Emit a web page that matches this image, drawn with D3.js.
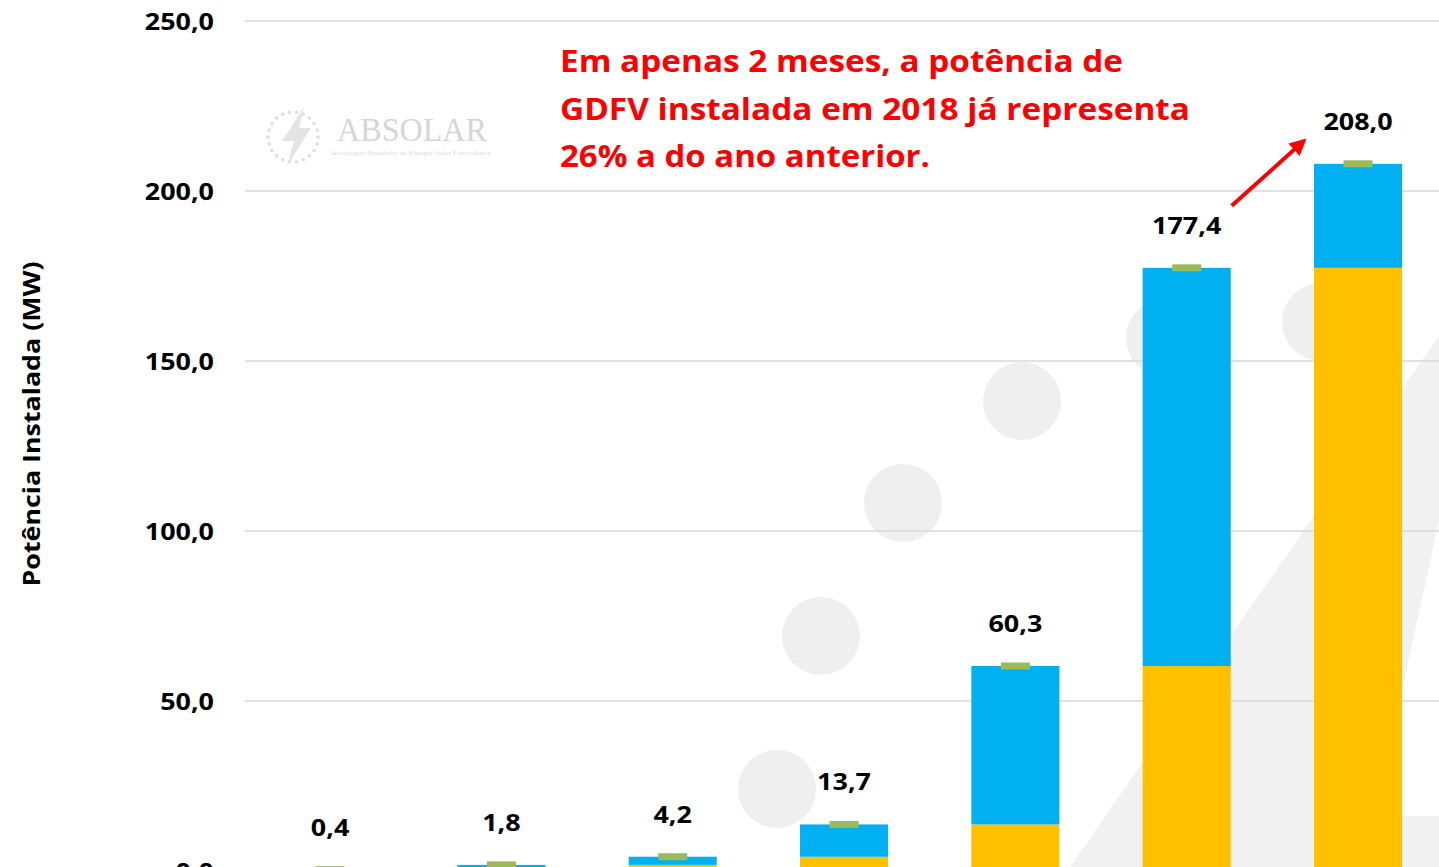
<!DOCTYPE html>
<html>
<head>
<meta charset="utf-8">
<script src="https://cdn.jsdelivr.net/npm/d3@7"></script>
<style>
  html, body { margin: 0; padding: 0; background: #ffffff; overflow: hidden; }
  svg { display: block; }
</style>
</head>
<body>
<svg id="chart" width="1439" height="867"></svg>
<script>
// ---------------- data ----------------
const categories = ["2012", "2013", "2014", "2015", "2016", "2017", "2018"];
const previousTotal = [0, 0.4, 1.8, 4.2, 13.7, 60.3, 177.4];      // yellow (acumulado anterior)
const addedInPeriod = [0.4, 1.4, 2.4, 9.5, 46.6, 117.1, 30.6];    // blue (novo no período)
const totals = [0.4, 1.8, 4.2, 13.7, 60.3, 177.4, 208.0];         // labels + green markers
const yTicks = [0, 50, 100, 150, 200, 250];
const yTitle = "Potência Instalada (MW)";
const noteLines = [
  "Em apenas 2 meses, a potência de",
  "GDFV instalada em 2018 já representa",
  "26% a do ano anterior."
];

// ---------------- setup ----------------
const svg = d3.select("#chart");
const W = 1439, H = 867;
const plotLeft = 244.4, plotRight = 1443.7;

const x = d3.scaleBand()
  .domain(categories)
  .range([plotLeft, plotRight])
  .paddingInner(0.486)
  .paddingOuter(0.243);

const y = d3.scaleLinear().domain([0, 250]).range([871, 21]);

const fmt = v => d3.format(".1f")(v).replace(".", ",");
const FONT = "'Open Sans', 'Noto Sans', sans-serif";
const STRETCH = 1.17;

function stretch(sel, k) {
  sel.each(function () {
    const len = this.getComputedTextLength();
    d3.select(this).attr("textLength", len * k).attr("lengthAdjust", "spacingAndGlyphs");
  });
}

// ---------------- watermark (decorative) ----------------
const wm = svg.append("g").attr("class", "watermark");
wm.append("path")
  .attr("d", "M1070,867 L1439,336 L1439,520 L1364,867 Z")
  .attr("fill", "#f1f1f1");
wm.append("rect").attr("x", 1402).attr("y", 816).attr("width", 40).attr("height", 60).attr("fill", "#f1f1f1");
[[1022, 401], [903, 503], [821, 636], [777, 789], [1165, 338], [1321, 322]].forEach(([cx, cy]) => {
  wm.append("circle").attr("cx", cx).attr("cy", cy).attr("r", 39).attr("fill", "#efefef");
});

// ABSOLAR logo
const logo = wm.append("g").attr("class", "logo");
const lcx = 293, lcy = 137, lr = 25;
d3.range(22).forEach(i => {
  const a = i / 22 * Math.PI * 2;
  logo.append("circle")
    .attr("cx", lcx + lr * Math.cos(a))
    .attr("cy", lcy + lr * Math.sin(a))
    .attr("r", 1.8)
    .attr("fill", "#dedede");
});
logo.append("path")
  .attr("d", "M304,107 L282,141 L294,141 L287,166 L311,128 L299,128 Z")
  .attr("fill", "#e4e4e4");
logo.append("text")
  .attr("x", 337).attr("y", 141)
  .attr("font-family", "'Liberation Serif', 'DejaVu Serif', serif")
  .attr("font-size", 33)
  .attr("fill", "#d6d6d6")
  .attr("textLength", 150)
  .attr("lengthAdjust", "spacingAndGlyphs")
  .text("ABSOLAR");
logo.append("text")
  .attr("x", 331).attr("y", 155)
  .attr("font-family", "'Liberation Serif', 'DejaVu Serif', serif")
  .attr("font-size", 6)
  .attr("fill", "#dcdcdc")
  .attr("textLength", 160)
  .attr("lengthAdjust", "spacingAndGlyphs")
  .text("Associação Brasileira de Energia Solar Fotovoltaica");

// ---------------- gridlines ----------------
svg.append("g").attr("class", "grid")
  .selectAll("line").data(yTicks).join("line")
  .attr("x1", 245).attr("x2", W)
  .attr("y1", d => y(d)).attr("y2", d => y(d))
  .attr("stroke", "#d9d9d9").attr("stroke-width", 1.5);

// ---------------- y axis labels ----------------
const yAxis = d3.axisLeft(y).tickValues(yTicks).tickFormat(fmt).tickSize(0).tickPadding(0);
const yg = svg.append("g").attr("transform", "translate(214,0)").call(yAxis);
yg.select(".domain").remove();
yg.selectAll("text")
  .attr("font-family", FONT)
  .attr("font-weight", 700)
  .attr("font-size", 23)
  .attr("fill", "#000")
  .attr("dy", "0.36em")
  .call(stretch, STRETCH);

// y title
svg.append("text")
  .attr("transform", "translate(40,424) rotate(-90)")
  .attr("text-anchor", "middle")
  .attr("font-family", FONT)
  .attr("font-weight", 700)
  .attr("font-size", 23)
  .attr("fill", "#000")
  .attr("textLength", 325)
  .attr("lengthAdjust", "spacingAndGlyphs")
  .text(yTitle);

// ---------------- stacked bars ----------------
const rows = categories.map((c, i) => ({ cat: c, prev: previousTotal[i], added: addedInPeriod[i] }));
const stack = d3.stack().keys(["prev", "added"]);
const series = stack(rows);
const colors = { prev: "#ffc000", added: "#00b0f0" };

svg.append("g").attr("class", "bars")
  .selectAll("g").data(series).join("g")
  .attr("fill", d => colors[d.key])
  .selectAll("rect").data(d => d).join("rect")
  .attr("x", d => x(d.data.cat))
  .attr("width", x.bandwidth())
  .attr("y", d => y(d[1]))
  .attr("height", d => Math.max(0, y(d[0]) - y(d[1])));

// green markers (total)
const mW = 29, mH = 7;
svg.append("g").attr("class", "markers")
  .selectAll("rect").data(totals).join("rect")
  .attr("x", (d, i) => x(categories[i]) + x.bandwidth() / 2 - mW / 2)
  .attr("y", d => y(d) - mH / 2)
  .attr("width", mW).attr("height", mH)
  .attr("fill", "#9bbb59");

// total labels
svg.append("g").attr("class", "labels")
  .selectAll("text").data(totals).join("text")
  .attr("x", (d, i) => x(categories[i]) + x.bandwidth() / 2)
  .attr("y", d => y(d) - 34)
  .attr("text-anchor", "middle")
  .attr("font-family", FONT)
  .attr("font-weight", 700)
  .attr("font-size", 23)
  .attr("fill", "#000")
  .text(d => fmt(d))
  .call(stretch, STRETCH);

// ---------------- annotation ----------------
const noteWidths = [563, 630, 370];
svg.append("g").attr("class", "note")
  .selectAll("text").data(noteLines).join("text")
  .attr("x", 560)
  .attr("y", (d, i) => 72 + i * 47.5)
  .attr("font-family", FONT)
  .attr("font-weight", 700)
  .attr("font-size", 31)
  .attr("fill", "#ff0000")
  .attr("textLength", (d, i) => noteWidths[i])
  .attr("lengthAdjust", "spacingAndGlyphs")
  .text(d => d);

// arrow from 2017 label to 2018 label
const defs = svg.append("defs");
defs.append("marker")
  .attr("id", "arrowhead")
  .attr("viewBox", "0 0 10 10")
  .attr("refX", 8).attr("refY", 5)
  .attr("markerWidth", 4.2).attr("markerHeight", 4.2)
  .attr("orient", "auto")
  .append("path").attr("d", "M0,0 L10,5 L0,10 Z").attr("fill", "#ff0000");

const i6 = categories.length - 2, i7 = categories.length - 1;
const ax1 = x(categories[i6]) + x.bandwidth() / 2 + 45;
const ay1 = y(totals[i6]) - 62;
const ax2 = x(categories[i7]) + x.bandwidth() / 2 - 54;
const ay2 = y(totals[i7]) - 23;
svg.append("line")
  .attr("x1", ax1).attr("y1", ay1)
  .attr("x2", ax2).attr("y2", ay2)
  .attr("stroke", "#ff0000").attr("stroke-width", 4)
  .attr("marker-end", "url(#arrowhead)");
</script>
</body>
</html>
